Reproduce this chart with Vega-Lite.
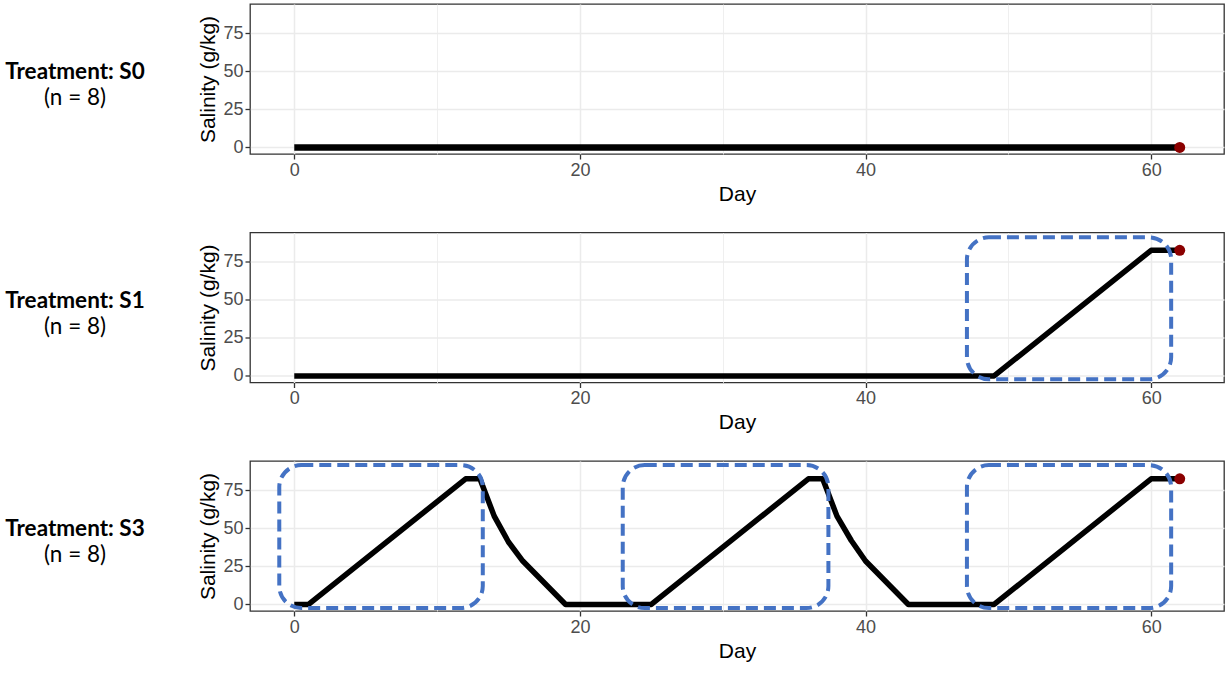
{
  "$schema": "https://vega.github.io/schema/vega-lite/v6.json",
  "background": "white",
  "padding": {"left": 5, "top": 3, "right": 0, "bottom": 0},
  "spacing": 26.5,
  "config": {
    "view": {"stroke": "#333333", "strokeWidth": 1.3},
    "axis": {
      "labelFont": "Liberation Sans",
      "labelFontSize": 18,
      "labelColor": "#4D4D4D",
      "titleFont": "Liberation Sans",
      "titleFontSize": 21,
      "titleFontWeight": "normal",
      "titleColor": "#000000",
      "tickColor": "#333333",
      "tickWidth": 1.3,
      "tickSize": 5,
      "labelPadding": 2,
      "domain": false,
      "gridColor": "#EBEBEB"
    }
  },
  "datasets": {
    "sal": [
      {"treatment": "S0", "day": 0, "salinity": 0},
      {"treatment": "S0", "day": 62, "salinity": 0},
      {"treatment": "S1", "day": 0, "salinity": 0},
      {"treatment": "S1", "day": 49, "salinity": 0},
      {"treatment": "S1", "day": 60, "salinity": 82.5},
      {"treatment": "S1", "day": 62, "salinity": 82.5},
      {"treatment": "S3", "day": 0, "salinity": 0},
      {"treatment": "S3", "day": 1, "salinity": 0},
      {"treatment": "S3", "day": 12, "salinity": 82.5},
      {"treatment": "S3", "day": 13, "salinity": 82.5},
      {"treatment": "S3", "day": 14, "salinity": 58},
      {"treatment": "S3", "day": 15, "salinity": 41},
      {"treatment": "S3", "day": 16, "salinity": 28.5},
      {"treatment": "S3", "day": 17, "salinity": 19},
      {"treatment": "S3", "day": 18, "salinity": 9.5},
      {"treatment": "S3", "day": 19, "salinity": 0},
      {"treatment": "S3", "day": 25, "salinity": 0},
      {"treatment": "S3", "day": 36, "salinity": 82.5},
      {"treatment": "S3", "day": 37, "salinity": 82.5},
      {"treatment": "S3", "day": 38, "salinity": 58},
      {"treatment": "S3", "day": 39, "salinity": 42},
      {"treatment": "S3", "day": 40, "salinity": 28.5},
      {"treatment": "S3", "day": 41, "salinity": 19},
      {"treatment": "S3", "day": 42, "salinity": 9.5},
      {"treatment": "S3", "day": 43, "salinity": 0},
      {"treatment": "S3", "day": 49, "salinity": 0},
      {"treatment": "S3", "day": 60, "salinity": 82.5},
      {"treatment": "S3", "day": 62, "salinity": 82.5}
    ],
    "boxes": [
      {"treatment": "S1", "x1": 47.1, "x2": 61.4, "y1": -2.2, "y2": 91},
      {"treatment": "S3", "x1": -1.05, "x2": 13.2, "y1": -2.4, "y2": 91.5},
      {"treatment": "S3", "x1": 23.0, "x2": 37.4, "y1": -2.4, "y2": 91.5},
      {"treatment": "S3", "x1": 47.1, "x2": 61.4, "y1": -2.4, "y2": 91.5}
    ],
    "labels": [
      {"treatment": "S0", "title": "Treatment: S0", "n": "(n = 8)"},
      {"treatment": "S1", "title": "Treatment: S1", "n": "(n = 8)"},
      {"treatment": "S3", "title": "Treatment: S3", "n": "(n = 8)"}
    ]
  },
  "vconcat": [
    {
      "spacing": 52,
      "hconcat": [
        {
          "width": 140, "height": 150,
          "view": {"stroke": null},
          "data": {"name": "labels"},
          "transform": [{"filter": "datum.treatment === 'S0'"}],
          "layer": [
            {"mark": {"type": "text", "font": "Lato", "fontWeight": "bold", "fontSize": 22.5, "baseline": "alphabetic", "color": "#000000"}, "encoding": {"text": {"field": "title"}}},
            {"mark": {"type": "text", "font": "Lato", "fontSize": 22.5, "baseline": "alphabetic", "dy": 26, "color": "#000000"}, "encoding": {"text": {"field": "n"}}}
          ]
        },
        {
          "width": 974, "height": 150,
          "layer": [
            {
              "data": {"name": "sal"},
              "transform": [{"filter": "datum.treatment === 'S0'"}],
              "mark": {"type": "line", "color": "#000000", "strokeWidth": 6.5, "strokeCap": "butt", "strokeJoin": "round"},
              "encoding": {
                "x": {"field": "day", "type": "quantitative", "scale": {"domain": [-3.1, 65.1], "nice": false, "zero": false},
                  "axis": {"title": "Day", "values": [0, 10, 20, 30, 40, 50, 60], "labelExpr": "datum.value % 20 === 0 ? datum.label : ''",
                    "tickOpacity": {"condition": {"test": "datum.value % 20 === 0", "value": 1}, "value": 0},
                    "gridWidth": {"condition": {"test": "datum.value % 20 === 0", "value": 1.5}, "value": 0.8}}},
                "y": {"field": "salinity", "type": "quantitative", "scale": {"domain": [-4.3, 94.2], "nice": false, "zero": false},
                  "axis": {"title": "Salinity (g/kg)", "values": [0, 12.5, 25, 37.5, 50, 62.5, 75, 87.5], "labelExpr": "datum.value % 25 === 0 ? datum.label : ''",
                    "tickOpacity": {"condition": {"test": "datum.value % 25 === 0", "value": 1}, "value": 0},
                    "gridWidth": {"condition": {"test": "datum.value % 25 === 0", "value": 1.5}, "value": 0.8}}}
              }
            },
            {
              "data": {"name": "sal"},
              "transform": [{"filter": "datum.treatment === 'S0' && datum.day === 62"}],
              "mark": {"type": "point", "filled": true, "opacity": 1, "color": "#8B0000", "size": 120},
              "encoding": {"x": {"field": "day", "type": "quantitative"}, "y": {"field": "salinity", "type": "quantitative"}}
            }
          ]
        }
      ]
    },
    {
      "spacing": 52,
      "hconcat": [
        {
          "width": 140, "height": 150,
          "view": {"stroke": null},
          "data": {"name": "labels"},
          "transform": [{"filter": "datum.treatment === 'S1'"}],
          "layer": [
            {"mark": {"type": "text", "font": "Lato", "fontWeight": "bold", "fontSize": 22.5, "baseline": "alphabetic", "color": "#000000"}, "encoding": {"text": {"field": "title"}}},
            {"mark": {"type": "text", "font": "Lato", "fontSize": 22.5, "baseline": "alphabetic", "dy": 26, "color": "#000000"}, "encoding": {"text": {"field": "n"}}}
          ]
        },
        {
          "width": 974, "height": 150,
          "layer": [
            {
              "data": {"name": "sal"},
              "transform": [{"filter": "datum.treatment === 'S1'"}],
              "mark": {"type": "line", "color": "#000000", "strokeWidth": 5.5, "strokeCap": "butt", "strokeJoin": "round"},
              "encoding": {
                "x": {"field": "day", "type": "quantitative", "scale": {"domain": [-3.1, 65.1], "nice": false, "zero": false},
                  "axis": {"title": "Day", "values": [0, 10, 20, 30, 40, 50, 60], "labelExpr": "datum.value % 20 === 0 ? datum.label : ''",
                    "tickOpacity": {"condition": {"test": "datum.value % 20 === 0", "value": 1}, "value": 0},
                    "gridWidth": {"condition": {"test": "datum.value % 20 === 0", "value": 1.5}, "value": 0.8}}},
                "y": {"field": "salinity", "type": "quantitative", "scale": {"domain": [-4.3, 94.2], "nice": false, "zero": false},
                  "axis": {"title": "Salinity (g/kg)", "values": [0, 12.5, 25, 37.5, 50, 62.5, 75, 87.5], "labelExpr": "datum.value % 25 === 0 ? datum.label : ''",
                    "tickOpacity": {"condition": {"test": "datum.value % 25 === 0", "value": 1}, "value": 0},
                    "gridWidth": {"condition": {"test": "datum.value % 25 === 0", "value": 1.5}, "value": 0.8}}}
              }
            },
            {
              "data": {"name": "sal"},
              "transform": [{"filter": "datum.treatment === 'S1' && datum.day === 62"}],
              "mark": {"type": "point", "filled": true, "opacity": 1, "color": "#8B0000", "size": 120},
              "encoding": {"x": {"field": "day", "type": "quantitative"}, "y": {"field": "salinity", "type": "quantitative"}}
            },
            {
              "data": {"name": "boxes"},
              "transform": [{"filter": "datum.treatment === 'S1'"}],
              "mark": {"type": "rect", "fill": null, "stroke": "#4472C4", "strokeWidth": 4, "strokeDash": [12, 6], "cornerRadius": 22},
              "encoding": {
                "x": {"field": "x1", "type": "quantitative"}, "x2": {"field": "x2"},
                "y": {"field": "y1", "type": "quantitative"}, "y2": {"field": "y2"}
              }
            }
          ]
        }
      ]
    },
    {
      "spacing": 52,
      "hconcat": [
        {
          "width": 140, "height": 150,
          "view": {"stroke": null},
          "data": {"name": "labels"},
          "transform": [{"filter": "datum.treatment === 'S3'"}],
          "layer": [
            {"mark": {"type": "text", "font": "Lato", "fontWeight": "bold", "fontSize": 22.5, "baseline": "alphabetic", "color": "#000000"}, "encoding": {"text": {"field": "title"}}},
            {"mark": {"type": "text", "font": "Lato", "fontSize": 22.5, "baseline": "alphabetic", "dy": 26, "color": "#000000"}, "encoding": {"text": {"field": "n"}}}
          ]
        },
        {
          "width": 974, "height": 150,
          "layer": [
            {
              "data": {"name": "sal"},
              "transform": [{"filter": "datum.treatment === 'S3'"}],
              "mark": {"type": "line", "color": "#000000", "strokeWidth": 5.5, "strokeCap": "butt", "strokeJoin": "round"},
              "encoding": {
                "x": {"field": "day", "type": "quantitative", "scale": {"domain": [-3.1, 65.1], "nice": false, "zero": false},
                  "axis": {"title": "Day", "values": [0, 10, 20, 30, 40, 50, 60], "labelExpr": "datum.value % 20 === 0 ? datum.label : ''",
                    "tickOpacity": {"condition": {"test": "datum.value % 20 === 0", "value": 1}, "value": 0},
                    "gridWidth": {"condition": {"test": "datum.value % 20 === 0", "value": 1.5}, "value": 0.8}}},
                "y": {"field": "salinity", "type": "quantitative", "scale": {"domain": [-4.3, 94.2], "nice": false, "zero": false},
                  "axis": {"title": "Salinity (g/kg)", "values": [0, 12.5, 25, 37.5, 50, 62.5, 75, 87.5], "labelExpr": "datum.value % 25 === 0 ? datum.label : ''",
                    "tickOpacity": {"condition": {"test": "datum.value % 25 === 0", "value": 1}, "value": 0},
                    "gridWidth": {"condition": {"test": "datum.value % 25 === 0", "value": 1.5}, "value": 0.8}}}
              }
            },
            {
              "data": {"name": "sal"},
              "transform": [{"filter": "datum.treatment === 'S3' && datum.day === 62"}],
              "mark": {"type": "point", "filled": true, "opacity": 1, "color": "#8B0000", "size": 120},
              "encoding": {"x": {"field": "day", "type": "quantitative"}, "y": {"field": "salinity", "type": "quantitative"}}
            },
            {
              "data": {"name": "boxes"},
              "transform": [{"filter": "datum.treatment === 'S3'"}],
              "mark": {"type": "rect", "fill": null, "stroke": "#4472C4", "strokeWidth": 4, "strokeDash": [12, 6], "cornerRadius": 22},
              "encoding": {
                "x": {"field": "x1", "type": "quantitative"}, "x2": {"field": "x2"},
                "y": {"field": "y1", "type": "quantitative"}, "y2": {"field": "y2"}
              }
            }
          ]
        }
      ]
    }
  ]
}
